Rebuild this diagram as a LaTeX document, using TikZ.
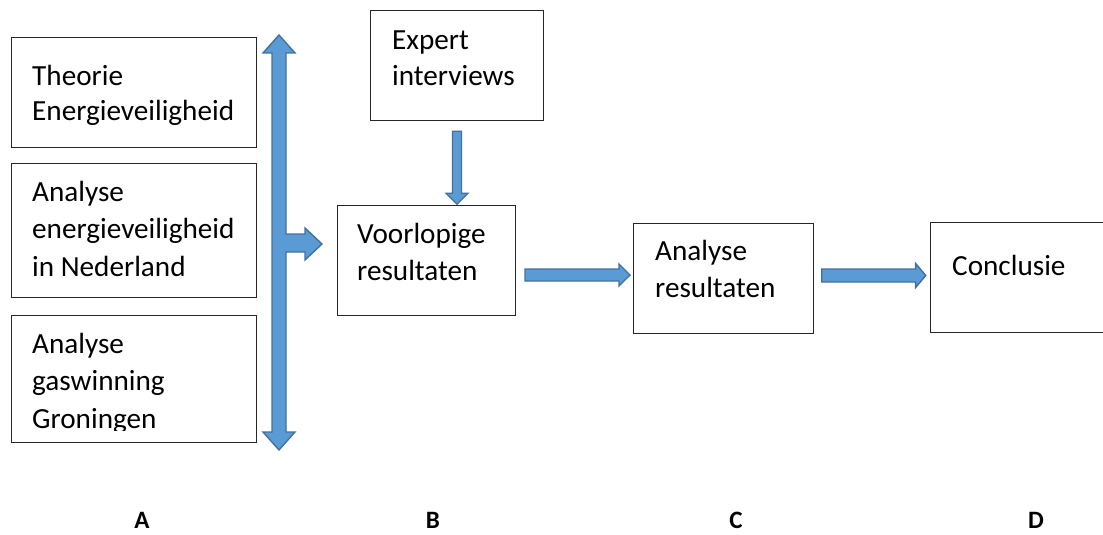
\documentclass[tikz,border=0pt]{standalone}
\usepackage{fontspec}
\setmainfont{Carlito}
\usepackage{tikz}
\usetikzlibrary{shapes.arrows}
\definecolor{arrowfill}{HTML}{5B9BD5}
\definecolor{arrowline}{HTML}{41719C}
\tikzset{
  box/.style={draw=black!85, line width=1.1pt, inner sep=0pt, anchor=north west},
  txt/.style={align=left, inner sep=0pt, anchor=north west, font=\fontsize{29.2}{37.5}\selectfont},
  colhead/.style={inner sep=0pt, anchor=base, font=\fontsize{25}{30}\selectfont\bfseries},
  blockarrow/.style={fill=arrowfill, draw=arrowline, line width=1.4pt, line join=miter},
  flowarrow/.style={single arrow, blockarrow, inner xsep=0pt, single arrow tip angle=90},
}

\begin{document}
\begin{tikzpicture}[x=1pt,y=-1pt]
  \useasboundingbox (0,0) rectangle (1103,535);

  % left column
  \node[box, minimum width=245, minimum height=110] (theo) at (11,37) {};
  \node[box, minimum width=245, minimum height=134] (ned) at (11,163) {};
  \node[box, minimum width=245, minimum height=127] (gron) at (11,315) {};
  \node[txt] (theo-t) at (32,58.75) {\strut Theorie\\[-2pt]Energieveiligheid};
  \node[txt] (ned-t) at (32,174.75) {\strut Analyse\\energieveiligheid\\in Nederland};
  \begin{scope}
    \clip (11,315) rectangle (256,430);
    \node[txt] (gron-t) at (32,326.75) {\strut Analyse\\gaswinning\\Groningen};
  \end{scope}

  % double arrow with branch
  \draw[blockarrow] (279,35) -- (295,53) -- (286,53) -- (286,234) -- (305,234)
    -- (305,228) -- (322,244) -- (305,260) -- (305,252) -- (286,252) -- (286,432)
    -- (295,432) -- (279,450) -- (263,432) -- (272,432) -- (272,53) -- (263,53) -- cycle;

  % middle and right
  \node[box, minimum width=173, minimum height=110] (expert) at (370,10) {};
  \node[txt] (expert-t) at (392,22.75) {\strut Expert\\[-1.5pt]interviews};
  \node[box, minimum width=178, minimum height=110] (voor) at (337,205) {};
  \node[txt] (voor-t) at (357,216.75) {\strut Voorlopige\\resultaten};
  \node[box, minimum width=180, minimum height=110] (ana) at (633,223) {};
  \node[txt] (ana-t) at (655,233.75) {\strut Analyse\\resultaten};
  \node[box, minimum width=180, minimum height=110] (conc) at (930,222) {};
  \node[txt] (conc-t) at (952,248.75) {\strut Conclusie};

  \node[flowarrow, rotate=-90, minimum height=73, inner ysep=3.8pt,
    single arrow head extend=6.5pt] (pijl0) at (457,165.5) {};
  \node[flowarrow, minimum height=105, inner ysep=5.3pt,
    single arrow head extend=5pt] (pijl1) at (574.5,275) {};
  \node[flowarrow, minimum height=104, inner ysep=5.8pt,
    single arrow head extend=5.5pt, single arrow tip angle=100] (pijl2) at (871,275.5) {};

  % column labels
  \foreach \x/\l in {142/A,433/B,736/C,1036/D}
    \node[colhead] (lab\l) at (\x,528) {\l};
\end{tikzpicture}
\end{document}
